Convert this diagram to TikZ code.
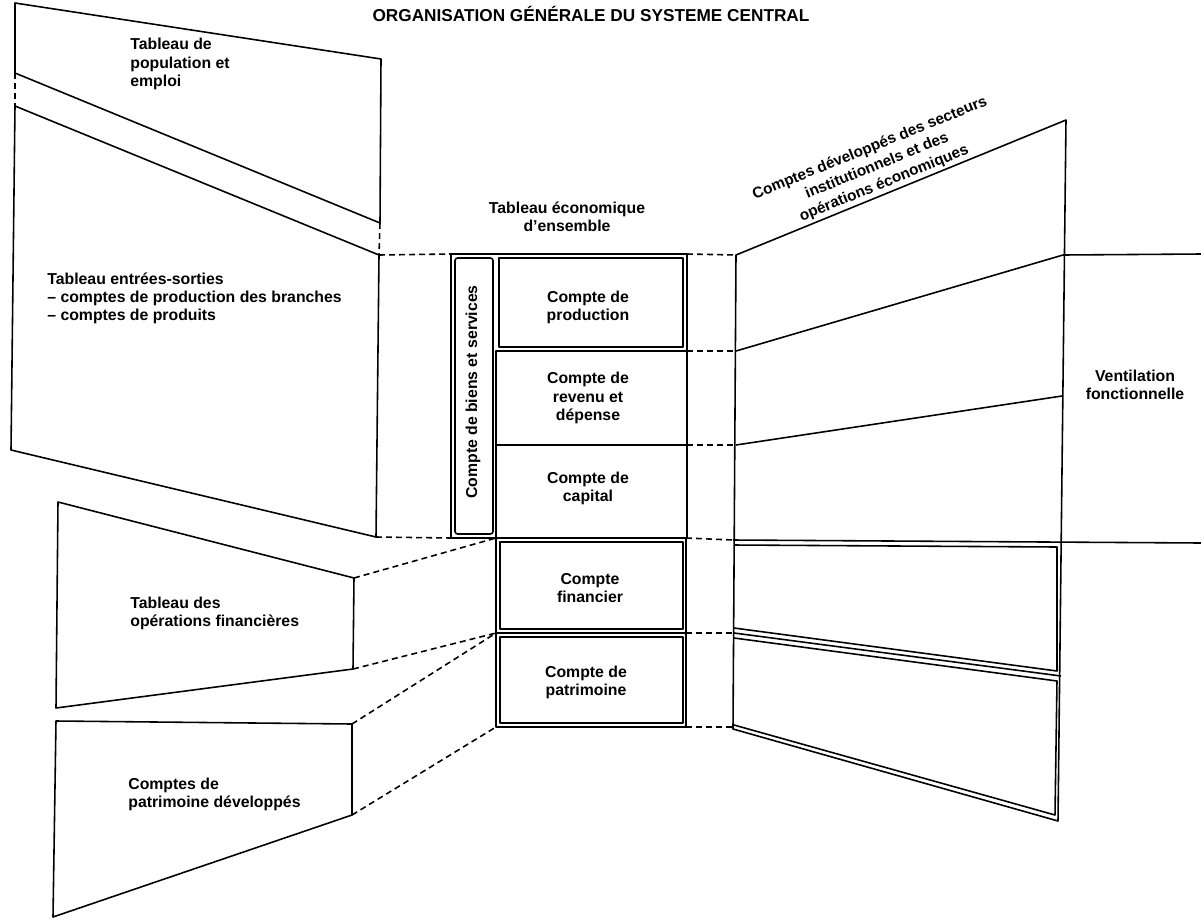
\documentclass[tikz,border=0pt]{standalone}
\usepackage{fontspec}
\setmainfont{Liberation Sans}
\begin{document}
\begin{tikzpicture}[x=0.02cm,y=-0.02cm,
  every node/.style={font=\fontsize{9}{10.3}\selectfont\bfseries, inner sep=0pt},
  panel/.style={line width=0.9pt, line join=round},
  link/.style={line width=0.9pt, dash pattern=on 3.4pt off 2.3pt},
  lbl/.style={align=left, anchor=west},
  ctr/.style={align=center}]
\useasboundingbox (0,0) rectangle (1201,920);

% ---------- left panels ----------
\coordinate (p1a) at (15,3);   \coordinate (p1b) at (381,59);
\coordinate (p1c) at (380,223);\coordinate (p1d) at (15,73);
\coordinate (p2a) at (15,106); \coordinate (p2b) at (379,255);
\coordinate (p2c) at (376,537);\coordinate (p2d) at (11,450);
\coordinate (p3a) at (58,502); \coordinate (p3b) at (354,578);
\coordinate (p3c) at (353,669);\coordinate (p3d) at (56,708);
\coordinate (p4a) at (56,721); \coordinate (p4b) at (352,724);
\coordinate (p4c) at (352,815);\coordinate (p4d) at (53,917);

\draw[panel] (p1a) -- (p1b) -- (p1c) -- (p1d) -- cycle;
\draw[panel] (p2a) -- (p2b) -- (p2c) -- (p2d) -- cycle;
\draw[panel] (p3a) -- (p3b) -- (p3c) -- (p3d) -- cycle;
\draw[panel] (p4a) -- (p4b) -- (p4c) -- (p4d) -- cycle;

% ---------- central table ----------
\coordinate (tA) at (451,254); \coordinate (tB) at (687,254);
\coordinate (tC) at (687,538); \coordinate (tD) at (451,538);
\draw[panel] (tA) rectangle (tC);
\draw[panel, rounded corners=1.5pt] (455,258) rectangle (493,534);
\draw[panel] (499,258) rectangle (683,347);
\coordinate (rTop) at (687,351);
\coordinate (rMid) at (687,445);
\draw[panel] (496,538) -- (496,351) -- (rTop);
\draw[panel] (496,445) -- (rMid);

% lower central boxes
\coordinate (fA) at (496,538); \coordinate (fB) at (686,538);
\coordinate (fC) at (686,633); \coordinate (fD) at (496,633);
\coordinate (gC) at (686,727); \coordinate (gD) at (496,727);
\draw[panel] (fA) -- (fB) -- (gC) -- (gD) -- cycle;
\draw[panel] (fD) -- (fC);
\draw[panel] (500,542) rectangle (683,629);
\draw[panel] (500,637) rectangle (683,723);

% ---------- right panels ----------
\coordinate (rA) at (736,255);  \coordinate (rB) at (1066,120);
\coordinate (rE) at (1063,255); \coordinate (rF) at (1062,396);
\coordinate (rL) at (733,729);  \coordinate (rR) at (1058,821);
\coordinate (r1) at (736,351);  \coordinate (r2) at (736,445);
\coordinate (r3) at (733,540);  \coordinate (r4) at (734,633);
\coordinate (r5) at (733,727);
\coordinate (vA) at (1201,254); \coordinate (vB) at (1201,543);
\draw[panel] (rA) -- (rB) -- (rR) -- (rL) -- cycle;
\draw[panel] (r1) -- (rE) -- (vA);
\draw[panel] (r2) -- (rF);
\draw[panel] (r3) -- (vB);
\draw[panel] (r4) -- (1061,676);
\draw[panel] (734,545) -- (1057,547) -- (1057,671) -- (734,628);
\draw[panel] (734,638) -- (1057,681) -- (1055,815) -- (734,725);

% ---------- dashed connectors ----------
\draw[link] (p1d) -- (p2a);
\draw[link] (p1c) -- (p2b);
\draw[link] (p2b) -- (tA);
\draw[link] (p2c) -- (tD);
\draw[link] (p3b) -- (fA);
\draw[link] (p3c) -- (fD);
\draw[link] (p4b) -- (fD);
\draw[link] (p4c) -- (gD);
\draw[link] (tB) -- (rA);
\draw[link] (rTop) -- (r1);
\draw[link] (rMid) -- (r2);
\draw[link] (fB) -- (r3);
\draw[link] (fC) -- (r4);
\draw[link] (gC) -- (r5);

% ---------- texts ----------
\node[font=\fontsize{9.8}{11}\selectfont\bfseries] (title) at (591,14) {ORGANISATION GÉNÉRALE DU SYSTEME CENTRAL};
\node[lbl] (tpop) at (130,64) {Tableau de\\population et\\emploi};
\node[lbl] (tio) at (47,298) {Tableau entrées-sorties\\– comptes de production des branches\\– comptes de produits};
\node[lbl] (ttof) at (130,613) {Tableau des\\opérations financières};
\node[lbl] (tcpd) at (128,794) {Comptes de\\patrimoine développés};
\node[ctr] (ttee) at (567,217) {Tableau économique\\d’ensemble};
\node[ctr] (tprod) at (588,307) {Compte de\\production};
\node[ctr] (trev) at (588,398) {Compte de\\revenu et\\dépense};
\node[ctr] (tcap) at (588,488) {Compte de\\capital};
\node[ctr] (tfin) at (590,588) {Compte\\financier};
\node[ctr] (tpat) at (586,682) {Compte de\\patrimoine};
\node[rotate=90] (tbs) at (473,392) {Compte de biens et services};
\node[ctr] (tvent) at (1135,385) {Ventilation\\fonctionnelle};
\node[ctr, rotate=22, font=\fontsize{8.7}{10.8}\selectfont\bfseries] (tcdev) at (877,166) {Comptes développés des secteurs\\institutionnels et des\\opérations économiques};
\end{tikzpicture}
\end{document}
